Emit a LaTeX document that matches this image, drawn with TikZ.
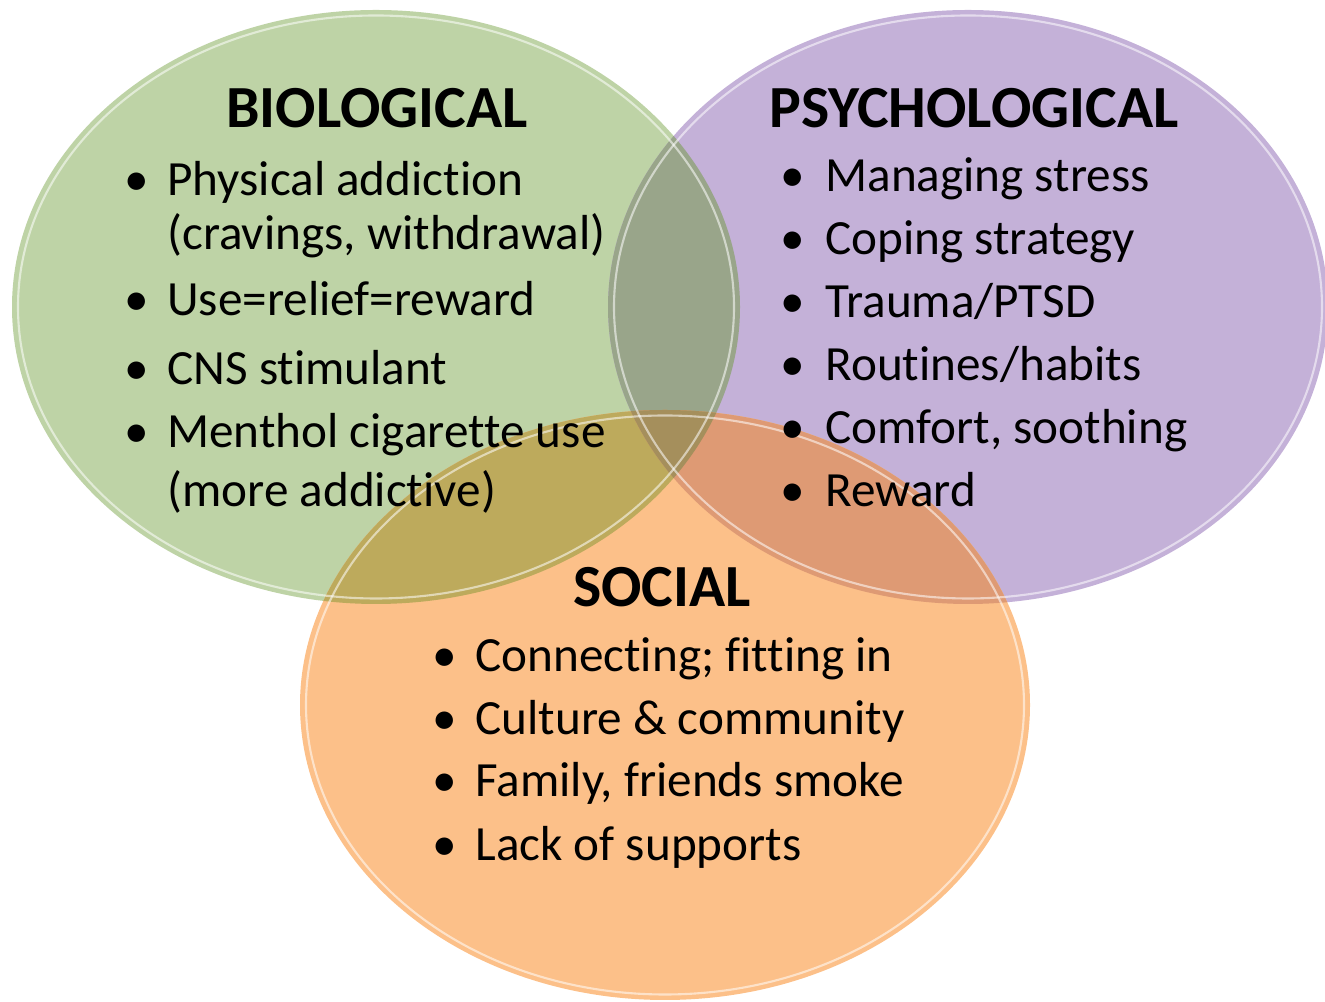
\documentclass[tikz,border=0pt]{standalone}
\usepackage{fontspec}
\setmainfont{Carlito}[Ligatures={NoCommon}]

\definecolor{bioGreen}{HTML}{BED3A6}
\definecolor{psyPurple}{HTML}{C4B1D8}
\definecolor{socOrange}{HTML}{FCC089}
\definecolor{bioPsy}{HTML}{99A58A}
\definecolor{bioSoc}{HTML}{BDAA5C}
\definecolor{psySoc}{HTML}{DE9A74}
\definecolor{allThree}{HTML}{A58F5C}

% the three circles of the model
\newcommand\bioShape{(7.52,13.90) ellipse [x radius=7.28, y radius=5.94]}
\newcommand\psyShape{(19.36,13.90) ellipse [x radius=7.2, y radius=5.94]}
\newcommand\socShape{(13.30,5.94) ellipse [x radius=7.3, y radius=5.9]}

\tikzset{
  head/.style={anchor=base, inner sep=0pt, font=\fontsize{34}{40}\selectfont\bfseries},
  dot/.style={anchor=base, inner sep=0pt, font=\fontsize{28}{34}\selectfont},
  entry/.style={anchor=base west, inner sep=0pt, font=\fontsize{28}{34}\selectfont},
  rim/.style={draw=white, draw opacity=0.55, line width=1.2pt},
}

\begin{document}
\begin{tikzpicture}
    \useasboundingbox (0,0) rectangle (26.5,20.04);

    % Circles
    \fill[bioGreen] \bioShape;
    \fill[psyPurple] \psyShape;
    \fill[socOrange] \socShape;

    % Overlaps
    \begin{scope}
        \clip \bioShape;
        \fill[bioPsy] \psyShape;
    \end{scope}
    \begin{scope}
        \clip \bioShape;
        \fill[bioSoc] \socShape;
    \end{scope}
    \begin{scope}
        \clip \psyShape;
        \fill[psySoc] \socShape;
    \end{scope}
    \begin{scope}
        \clip \bioShape;
        \clip \psyShape;
        \fill[allThree] \socShape;
    \end{scope}

    % Glassy rims
    \draw[rim] (7.52,13.90) ellipse [x radius=7.16, y radius=5.83];
    \draw[rim] (19.36,13.90) ellipse [x radius=7.08, y radius=5.83];
    \draw[rim] (13.30,5.94) ellipse [x radius=7.18, y radius=5.79];

    % Biological
    \node[head] (bioTitle) at (7.54,17.48) {BIOLOGICAL};
    \node[dot] (bioDot1) at (2.74,16.12) {•};
    \node[entry] (bio1) at (3.34,16.12) {Physical addiction};
    \node[entry] (bio1b) at (3.34,15.04) {(cravings, withdrawal)};
    \node[dot] (bioDot2) at (2.74,13.72) {•};
    \node[entry] (bio2) at (3.34,13.72) {Use=relief=reward};
    \node[dot] (bioDot3) at (2.74,12.34) {•};
    \node[entry] (bio3) at (3.34,12.34) {CNS stimulant};
    \node[dot] (bioDot4) at (2.74,11.08) {•};
    \node[entry] (bio4) at (3.34,11.08) {Menthol cigarette use};
    \node[entry] (bio4b) at (3.34,9.90) {(more addictive)};

    % Psychological
    \node[head] (psyTitle) at (19.48,17.48) {PSYCHOLOGICAL};
    \node[dot] (psyDot1) at (15.86,16.20) {•};
    \node[entry] (psy1) at (16.50,16.20) {Managing stress};
    \node[dot] (psyDot2) at (15.86,14.94) {•};
    \node[entry] (psy2) at (16.50,14.94) {Coping strategy};
    \node[dot] (psyDot3) at (15.86,13.68) {•};
    \node[entry] (psy3) at (16.50,13.68) {Trauma/PTSD};
    \node[dot] (psyDot4) at (15.86,12.42) {•};
    \node[entry] (psy4) at (16.50,12.42) {Routines/habits};
    \node[dot] (psyDot5) at (15.86,11.16) {•};
    \node[entry] (psy5) at (16.50,11.16) {Comfort, soothing};
    \node[dot] (psyDot6) at (15.86,9.90) {•};
    \node[entry] (psy6) at (16.50,9.90) {Reward};

    % Social
    \node[head] (socTitle) at (13.24,7.90) {SOCIAL};
    \node[dot] (socDot1) at (8.90,6.60) {•};
    \node[entry] (soc1) at (9.50,6.60) {Connecting; fitting in};
    \node[dot] (socDot2) at (8.90,5.34) {•};
    \node[entry] (soc2) at (9.50,5.34) {Culture \& community};
    \node[dot] (socDot3) at (8.90,4.10) {•};
    \node[entry] (soc3) at (9.50,4.10) {Family, friends smoke};
    \node[dot] (socDot4) at (8.90,2.82) {•};
    \node[entry] (soc4) at (9.50,2.82) {Lack of supports};
\end{tikzpicture}
\end{document}
